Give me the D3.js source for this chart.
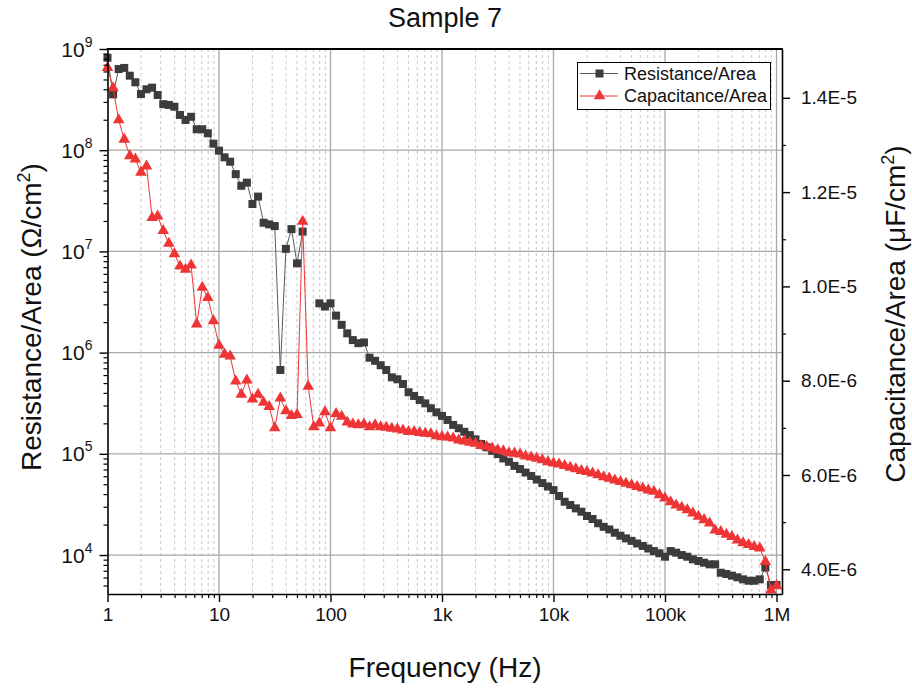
<!DOCTYPE html>
<html>
<head>
<meta charset="utf-8">
<script src="https://cdn.jsdelivr.net/npm/d3@7"></script>
<style>
  html, body { margin: 0; padding: 0; background: #fff; }
  svg { display: block; }
  text { font-family: "Liberation Sans", Arial, sans-serif; fill: #111; }
</style>
</head>
<body>
<svg id="chart" width="912" height="689"></svg>
<script>
// Frequency sweep: 20 points per decade from 1 Hz to 1 MHz
const mantissas = [1, 1.122, 1.259, 1.413, 1.585, 1.778, 1.995, 2.239, 2.512, 2.818,
                   3.162, 3.548, 3.981, 4.467, 5.012, 5.623, 6.310, 7.079, 7.943, 8.913];
const decades = [1, 10, 100, 1e3, 1e4, 1e5];
const lastFrequency = [1e6];

// Resistance/Area (Ohm/cm^2); null = negative reading, not shown on log axis
const resistance = [
  8.2e8, 3.56e8, 6.34e8, 6.5e8, 5.45e8, 4.69e8, 3.59e8, 4.0e8, 4.15e8, 3.51e8,
  2.85e8, 2.8e8, 2.69e8, 2.23e8, 1.99e8, 2.14e8, 1.61e8, 1.61e8, 1.47e8, 1.16e8,
  9.9e7, 8.5e7, 7.7e7, 5.8e7, 4.45e7, 4.78e7, 2.94e7, 3.48e7, 1.92e7, 1.85e7,
  1.78e7, 6.73e5, 1.06e7, 1.66e7, 7.62e6, 1.57e7, null, null, 3.07e6, 2.85e6,
  3.07e6, 2.32e6, 1.88e6, 1.55e6, 1.33e6, 1.24e6, 1.26e6, 8.9e5, 8.3e5, 7.5e5,
  6.73e5, 5.7e5, 5.45e5, 4.9e5, 4.06e5, 3.73e5, 3.4e5, 3.15e5, 2.82e5, 2.57e5,
  2.37e5, 2.16e5, 1.93e5, 1.79e5, 1.65e5, 1.53e5, 1.39e5, 1.25e5, 1.16e5, 1.07e5,
  9.95e4, 9.0e4, 8.35e4, 7.6e4, 7.07e4, 6.53e4, 6.04e4, 5.57e4, 5.14e4, 4.75e4,
  4.38e4, 3.83e4, 3.36e4, 3.12e4, 2.89e4, 2.68e4, 2.43e4, 2.27e4, 2.06e4, 1.90e4,
  1.79e4, 1.66e4, 1.55e4, 1.46e4, 1.38e4, 1.30e4, 1.23e4, 1.16e4, 1.095e4, 1.04e4,
  9620, 10950, 10550, 10000, 9620, 9070, 8730, 8400, 8090, 8090,
  6680, 6490, 6250, 6020, 5750, 5570, 5570, 5750, 7520, 5060,
  5060
];

// Capacitance/Area in units of 1E-6 uF/cm^2
const capacitanceE6 = [
  14.64, 14.21, 13.53, 13.12, 12.77, 12.70, 12.42, 12.55, 11.46, 11.49,
  11.18, 10.91, 10.69, 10.43, 10.36, 10.45, 9.20, 9.98, 9.76, 9.27,
  8.75, 8.56, 8.52, 7.99, 7.71, 8.01, 7.61, 7.71, 7.54, 7.45,
  7.00, 7.63, 7.36, 7.26, 7.28, 11.38, 7.88, 7.02, 7.10, 7.34,
  7.00, 7.30, 7.24, 7.12, 7.08, 7.06, 7.08, 7.02, 7.06, 7.02,
  7.01, 6.99, 6.97, 6.95, 6.92, 6.92, 6.90, 6.88, 6.87, 6.83,
  6.81, 6.80, 6.78, 6.74, 6.72, 6.69, 6.67, 6.62, 6.60, 6.57,
  6.53, 6.51, 6.47, 6.46, 6.44, 6.40, 6.38, 6.35, 6.32, 6.28,
  6.25, 6.23, 6.20, 6.16, 6.13, 6.09, 6.07, 6.04, 6.00, 5.96,
  5.93, 5.89, 5.86, 5.82, 5.79, 5.75, 5.72, 5.68, 5.65, 5.58,
  5.51, 5.43, 5.36, 5.31, 5.26, 5.19, 5.12, 5.05, 4.98, 4.83,
  4.80, 4.74, 4.69, 4.62, 4.56, 4.52, 4.48, 4.45, 4.16, 3.56,
  3.65
];

// Axis ticks
const xMajorTicks = [1, 10, 100, 1e3, 1e4, 1e5, 1e6];
const xTickLabels = ["1", "10", "100", "1k", "10k", "100k", "1M"];
const yLeftMajorTicks = [1e4, 1e5, 1e6, 1e7, 1e8, 1e9];
const yLeftExponents = ["4", "5", "6", "7", "8", "9"];
const yRightMajorTicks = [4e-6, 6e-6, 8e-6, 1.0e-5, 1.2e-5, 1.4e-5];
const yRightMinorTicks = [5e-6, 7e-6, 9e-6, 1.1e-5, 1.3e-5];

const seriesNames = ["Resistance/Area", "Capacitance/Area"];
const seriesColors = ["#3c3c3c", "#ee3434"];
const lineColors = ["#5a5a5a", "#ee3434"];

// ---- build table ----
const frequency = decades.flatMap(d => mantissas.map(m => m * d)).concat(lastFrequency);
const capacitance = capacitanceE6.map(v => v * 1e-6);
const rows = frequency.map((f, i) => ({ f, r: resistance[i], c: capacitance[i] }));

// ---- layout ----
const plot = { left: 107.5, right: 782, top: 49, bottom: 594 };
const svg = d3.select("#chart");

const x = d3.scaleLog().domain([1, 1.12e6]).range([plot.left, plot.right]);
const yL = d3.scaleLog().domain([4120, 1e9]).range([plot.bottom, plot.top]);
const yR = d3.scaleLinear().domain([3.476e-6, 1.5035e-5]).range([plot.bottom, plot.top]);

const minorX = [];
decades.forEach(d => { for (let k = 2; k <= 9; k++) minorX.push(k * d); });
const minorYL = [];
[1e3, 1e4, 1e5, 1e6, 1e7, 1e8].forEach(d => {
  for (let k = 2; k <= 9; k++) { const v = k * d; if (v >= 4120 && v <= 1e9) minorYL.push(v); }
});

// ---- grid ----
const grid = svg.append("g");
grid.selectAll("line.xminor").data(minorX).join("line")
  .attr("x1", d => x(d)).attr("x2", d => x(d))
  .attr("y1", plot.top).attr("y2", plot.bottom)
  .attr("stroke", "#c8c8c8").attr("stroke-width", 1).attr("stroke-dasharray", "3,3");
grid.selectAll("line.xmajor").data(xMajorTicks.slice(1)).join("line")
  .attr("x1", d => x(d)).attr("x2", d => x(d))
  .attr("y1", plot.top).attr("y2", plot.bottom)
  .attr("stroke", "#a8a8a8").attr("stroke-width", 1.3);
grid.selectAll("line.ymajor").data(yLeftMajorTicks.slice(0, -1)).join("line")
  .attr("x1", plot.left).attr("x2", plot.right)
  .attr("y1", d => yL(d)).attr("y2", d => yL(d))
  .attr("stroke", "#a8a8a8").attr("stroke-width", 1.3);

// ---- series ----
const lineR = d3.line().defined(d => d.r != null).x(d => x(d.f)).y(d => yL(d.r));
const lineC = d3.line().defined(d => d.c != null).x(d => x(d.f)).y(d => yR(d.c));

svg.append("path").datum(rows).attr("d", lineR)
  .attr("fill", "none").attr("stroke", lineColors[0]).attr("stroke-width", 1);
svg.append("g").selectAll("rect").data(rows.filter(d => d.r != null)).join("rect")
  .attr("x", d => x(d.f) - 4).attr("y", d => yL(d.r) - 4)
  .attr("width", 8).attr("height", 8).attr("fill", seriesColors[0]);

svg.append("path").datum(rows).attr("d", lineC)
  .attr("fill", "none").attr("stroke", lineColors[1]).attr("stroke-width", 1);
const tri = d3.symbol().type(d3.symbolTriangle).size(58);
svg.append("g").selectAll("path").data(rows.filter(d => d.c != null)).join("path")
  .attr("d", tri)
  .attr("transform", d => `translate(${x(d.f)},${yR(d.c)})`)
  .attr("fill", seriesColors[1]);

// ---- axes ----
const axisStyle = g => {
  g.select(".domain").attr("stroke", "#000").attr("stroke-width", 1.6);
  g.selectAll(".tick line").attr("stroke", "#000").attr("stroke-width", 1.4);
};

// bottom
const xAxis = svg.append("g").attr("transform", `translate(0,${plot.bottom})`)
  .call(d3.axisBottom(x).tickValues(xMajorTicks).tickSizeInner(8).tickSizeOuter(0)
    .tickPadding(6).tickFormat((d, i) => xTickLabels[i]));
xAxis.call(axisStyle);
xAxis.selectAll("text").attr("font-size", 19).attr("fill", "#111");
svg.append("g").attr("transform", `translate(0,${plot.bottom})`)
  .call(d3.axisBottom(x).tickValues(minorX).tickSize(4).tickFormat(""))
  .call(g => g.select(".domain").remove())
  .selectAll(".tick line").attr("stroke", "#000").attr("stroke-width", 1.2);

// left
const yAxisL = svg.append("g").attr("transform", `translate(${plot.left},0)`)
  .call(d3.axisLeft(yL).tickValues(yLeftMajorTicks).tickSizeInner(8).tickSizeOuter(0).tickFormat(""));
yAxisL.call(axisStyle);
yAxisL.selectAll(".tick").append("text")
  .attr("x", -15).attr("y", 7).attr("text-anchor", "end").attr("font-size", 21)
  .each(function(d, i) {
    const t = d3.select(this);
    t.append("tspan").text("10");
    t.append("tspan").attr("dy", -10).attr("font-size", 14).text(yLeftExponents[i]);
  });
svg.append("g").attr("transform", `translate(${plot.left},0)`)
  .call(d3.axisLeft(yL).tickValues(minorYL).tickSize(4).tickFormat(""))
  .call(g => g.select(".domain").remove())
  .selectAll(".tick line").attr("stroke", "#000").attr("stroke-width", 1.2);

// right
const yAxisR = svg.append("g").attr("transform", `translate(${plot.right},0)`)
  .call(d3.axisRight(yR).tickValues(yRightMajorTicks).tickSizeInner(8).tickSizeOuter(0)
    .tickPadding(11).tickFormat(d => d.toExponential(1).toUpperCase()));
yAxisR.call(axisStyle);
yAxisR.selectAll("text").attr("font-size", 19).attr("fill", "#111");
svg.append("g").attr("transform", `translate(${plot.right},0)`)
  .call(d3.axisRight(yR).tickValues(yRightMinorTicks).tickSize(4).tickFormat(""))
  .call(g => g.select(".domain").remove())
  .selectAll(".tick line").attr("stroke", "#000").attr("stroke-width", 1.2);

// top frame
svg.append("line").attr("x1", plot.left - 0.8).attr("x2", plot.right + 0.8)
  .attr("y1", plot.top).attr("y2", plot.top)
  .attr("stroke", "#000").attr("stroke-width", 1.8);

// ---- titles ----
svg.append("text").attr("x", 445).attr("y", 27).attr("text-anchor", "middle")
  .attr("font-size", 27).text("Sample 7");
svg.append("text").attr("x", 445).attr("y", 677).attr("text-anchor", "middle")
  .attr("font-size", 28).text("Frequency (Hz)");

const leftTitle = svg.append("text")
  .attr("transform", "translate(41,317) rotate(-90)")
  .attr("text-anchor", "middle").attr("font-size", 28);
leftTitle.append("tspan").text("Resistance/Area (\u03A9/cm");
leftTitle.append("tspan").attr("dy", -11).attr("font-size", 18).text("2");
leftTitle.append("tspan").attr("dy", 11).text(")");

const rightTitle = svg.append("text")
  .attr("transform", "translate(905,314) rotate(-90)")
  .attr("text-anchor", "middle").attr("font-size", 28);
rightTitle.append("tspan").text("Capacitance/Area (\u03BCF/cm");
rightTitle.append("tspan").attr("dy", -11).attr("font-size", 18).text("2");
rightTitle.append("tspan").attr("dy", 11).text(")");

// ---- legend ----
const legend = svg.append("g");
legend.append("rect").attr("x", 577.5).attr("y", 62.5).attr("width", 193).attr("height", 47)
  .attr("fill", "#fff").attr("stroke", "#000").attr("stroke-width", 1);
const legendY = [73.5, 96];
seriesNames.forEach((name, i) => {
  const g = legend.append("g").attr("transform", `translate(0,${legendY[i]})`);
  g.append("line").attr("x1", 580).attr("x2", 618).attr("stroke", lineColors[i]).attr("stroke-width", 1);
  if (i === 0) {
    g.append("rect").attr("x", 595.5).attr("y", -4).attr("width", 8).attr("height", 8).attr("fill", seriesColors[0]);
  } else {
    g.append("path").attr("d", tri).attr("transform", "translate(599.5,0)").attr("fill", seriesColors[1]);
  }
  g.append("text").attr("x", 624).attr("y", 0).attr("dy", "0.35em").attr("font-size", 18).text(name);
});
</script>
</body>
</html>
